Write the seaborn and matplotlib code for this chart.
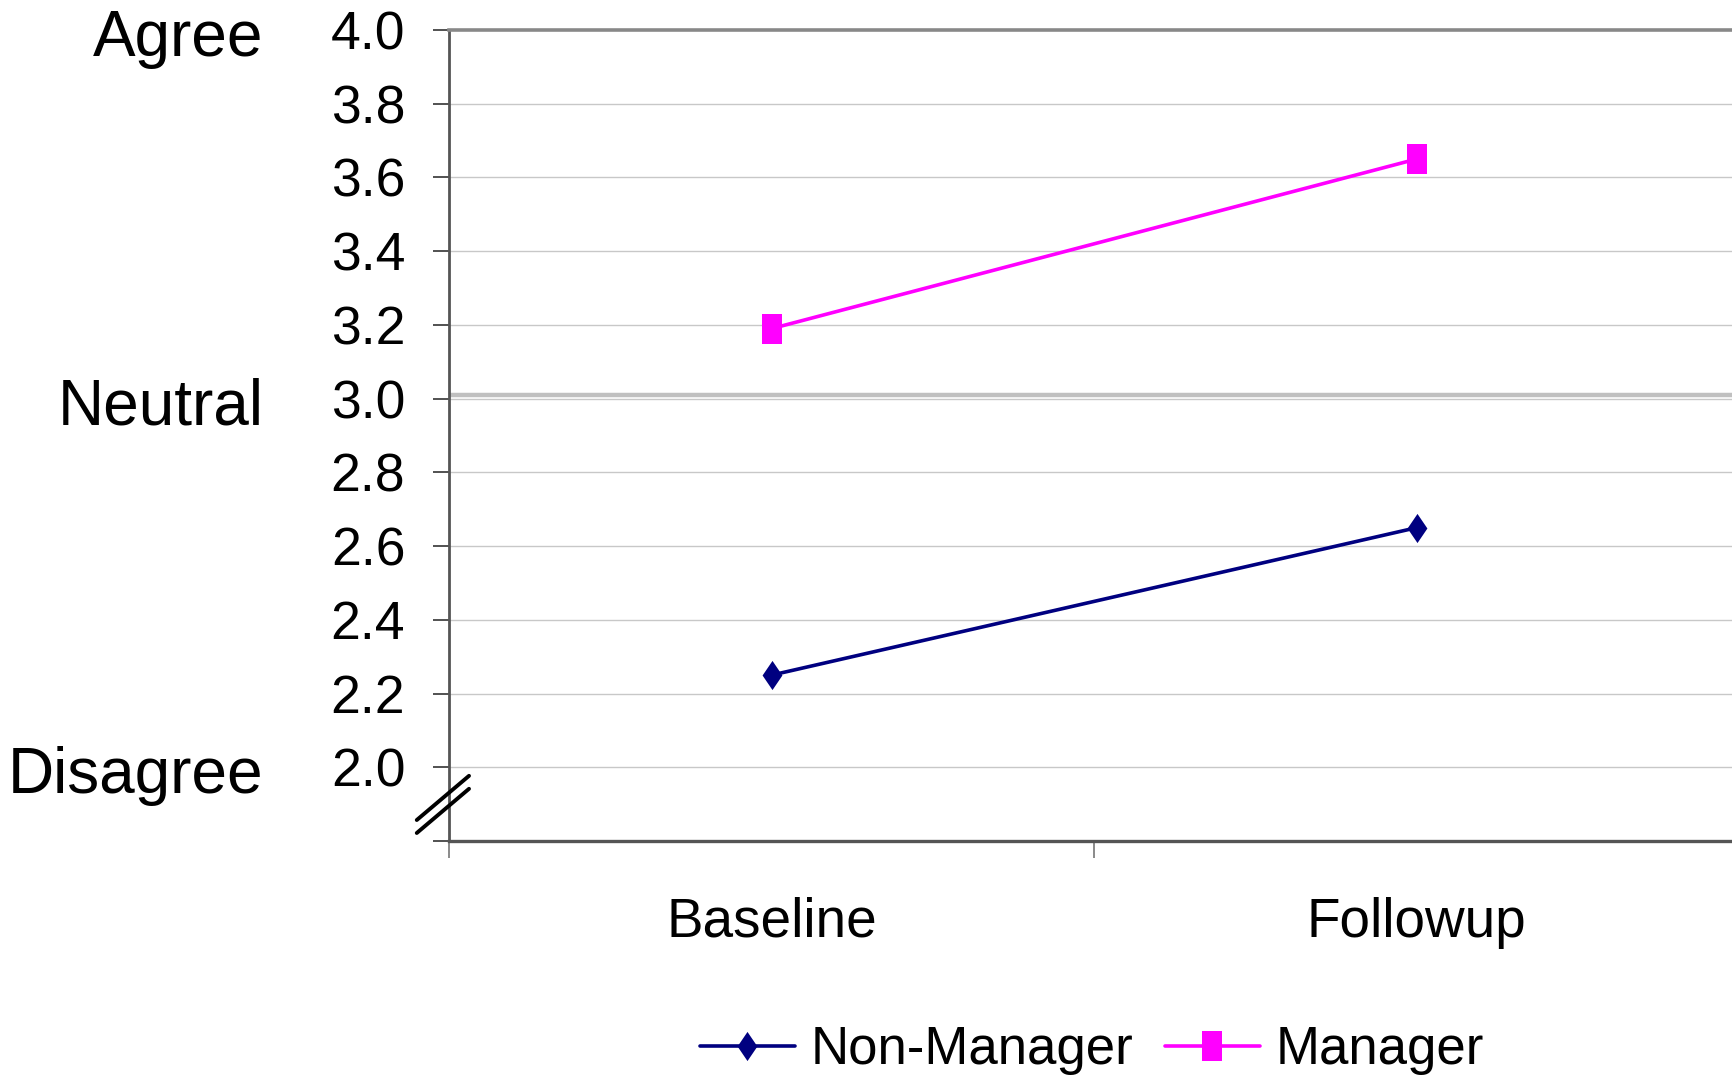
import matplotlib
matplotlib.use("Agg")
import matplotlib.pyplot as plt
import matplotlib.transforms as mtransforms
import numpy as np
import pandas as pd
import seaborn as sns

# chart data
periods = ["Baseline", "Followup"]
non_manager = [2.25, 2.65]
manager = [3.19, 3.65]
groups = ["Non-Manager", "Manager"]
y_ticks = [1.8, 2.0, 2.2, 2.4, 2.6, 2.8, 3.0, 3.2, 3.4, 3.6, 3.8, 4.0]
y_tick_labels = ["", "2.0", "2.2", "2.4", "2.6", "2.8", "3.0", "3.2", "3.4", "3.6", "3.8", "4.0"]
scale_labels = ["Disagree", "Neutral", "Agree"]
scale_values = [2.0, 3.0, 4.0]

df = pd.DataFrame({
    "period": periods * 2,
    "score": non_manager + manager,
    "group": [groups[0]] * 2 + [groups[1]] * 2,
})

sns.set_style("white")
plt.rcParams["font.family"] = ["Liberation Sans", "DejaVu Sans"]
plt.rcParams["text.color"] = "black"
plt.rcParams["xtick.labelcolor"] = "black"
plt.rcParams["ytick.labelcolor"] = "black"

fig = plt.figure(figsize=(17.33, 10.77), dpi=100)
ax = fig.add_axes([0.2591, 0.2191, 0.7444, 0.7530])

# tall diamond and tall rectangle, like the source
diamond = [(0, -1), (0.68, 0), (0, 1), (-0.68, 0)]
rect = [(-0.66, -1), (0.66, -1), (0.66, 1), (-0.66, 1)]

sns.lineplot(
    data=df, x="period", y="score", hue="group", style="group",
    palette={"Non-Manager": "#000080", "Manager": "#FF00FF"},
    markers={"Non-Manager": diamond, "Manager": rect},
    dashes=False, linewidth=2.6, markersize=21, markeredgewidth=0,
    ax=ax, zorder=5,
)

ax.set_xlim(-0.5, 1.5)
ax.set_ylim(1.8, 4.0)
ax.set_xlabel("")
ax.set_ylabel("")

# y axis
ax.set_yticks(y_ticks)
ax.set_yticklabels(y_tick_labels, fontsize=38.5)
ax.tick_params(axis="y", direction="out", length=11.5, width=1.2, color="#333333",
               pad=20, left=True)
for y in y_ticks[1:-1]:
    ax.axhline(y, color="#c8c8c8", lw=1.0, zorder=1)

# neutral line, drawn a bit thicker just above the 3.0 gridline
shift = mtransforms.ScaledTranslation(0, 3.0 / 72, fig.dpi_scale_trans)
neutral = ax.axhline(3.0, color="#c0c0c0", lw=3.2, zorder=2)
neutral.set_transform(neutral.get_transform() + shift)

# x axis: unlabeled separators, labels centred on categories
ax.set_xticks([-0.5, 0.5, 1.5])
ax.set_xticklabels(["", "", ""])
ax.tick_params(axis="x", which="major", direction="out", length=12, width=1.2,
               color="#777777", bottom=True)
ax.set_xticks([0, 1], minor=True)
ax.set_xticklabels(periods, minor=True, fontsize=39.5)
ax.tick_params(axis="x", which="minor", length=0, pad=40)

for side, col, lw in [("left", "#555555", 2.0), ("bottom", "#555555", 2.4),
                      ("top", "#888888", 2.6)]:
    ax.spines[side].set_visible(True)
    ax.spines[side].set_color(col)
    ax.spines[side].set_linewidth(lw)
ax.spines["right"].set_visible(False)

# Agree / Neutral / Disagree labels
down = mtransforms.ScaledTranslation(0, -6.5 / 72, fig.dpi_scale_trans)
lab_tr = ax.get_yaxis_transform() + down
for txt, val in zip(scale_labels, scale_values):
    ax.text(-0.144, val, txt, transform=lab_tr, ha="right", va="center",
            fontsize=46, clip_on=False)

# axis break marks
for y0 in (0.0259, 0.0099):
    ax.plot([-0.025, 0.0155], [y0, y0 + 0.0545], transform=ax.transAxes,
            color="black", lw=2.8, clip_on=False, zorder=6)

handles, labels = ax.get_legend_handles_labels()
ax.get_legend().remove()
fig.legend(handles, labels, loc="center", bbox_to_anchor=(0.63, 0.025), ncol=2,
           frameon=False, fontsize=38, handlelength=1.8, handletextpad=0.3,
           columnspacing=0.6)

fig.savefig("out.png", dpi=100)
